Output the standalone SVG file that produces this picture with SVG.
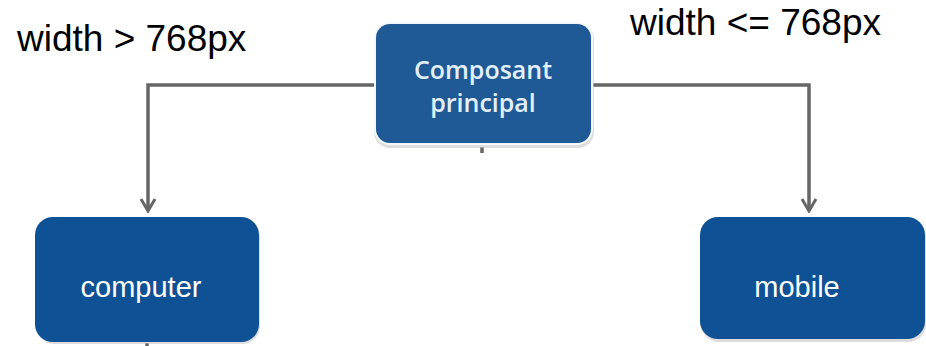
<svg xmlns="http://www.w3.org/2000/svg" width="926" height="346" viewBox="0 0 926 346">
<defs>
<style>
.label{font-family:"Liberation Sans",Arial,sans-serif;fill:#000;font-size:37px}
.node{fill:#0e5194}
.ntext{font-family:"Liberation Sans",Arial,sans-serif;fill:#fff;font-size:29px;text-anchor:middle}
.mtext{font-family:"Open Sans","Liberation Sans",sans-serif;fill:#e2f0fb;font-size:25px;font-weight:600;text-anchor:middle}
.conn{fill:none;stroke:#666;stroke-width:3.5}
</style>
<marker id="arr" viewBox="0 0 16 18" refX="14" refY="9" markerWidth="16" markerHeight="18" markerUnits="userSpaceOnUse" orient="auto">
<path d="M2 2 L14 9 L2 16" fill="none" stroke="#666" stroke-width="3"/>
</marker>
</defs>
<rect width="926" height="346" fill="#fff"/>
<text class="label" x="17" y="51">width &gt; 768px</text>
<text class="label" x="630" y="35">width &lt;= 768px</text>
<g id="connectors">
<path class="conn" d="M376 85 H148 V211" marker-end="url(#arr)"/>
<path class="conn" d="M591 85 H809 V211" marker-end="url(#arr)"/>
<path class="conn" d="M482 147 V153"/>
<path class="conn" d="M147 343 V346"/>
</g>
<g id="main">
<rect x="374" y="24" width="220" height="124" rx="16" fill="#c8c8c8" opacity="0.6"/>
<rect x="374" y="22" width="219" height="123" rx="16" fill="#f4f8fb"/>
<rect x="376" y="24" width="215" height="119" rx="14" fill="#1f5a96"/>
<text class="mtext" x="483" y="79">Composant</text>
<text class="mtext" x="483" y="112">principal</text>
</g>
<g id="computer">
<rect x="36" y="219" width="224" height="125" rx="18" fill="#bbb" opacity="0.5"/>
<rect x="35" y="217" width="224" height="125" rx="18" class="node"/>
<text class="ntext" x="141" y="297">computer</text>
</g>
<g id="mobile">
<rect x="701" y="219" width="225" height="123" rx="18" fill="#bbb" opacity="0.5"/>
<rect x="700" y="217" width="225" height="122" rx="18" class="node"/>
<text class="ntext" x="797" y="297">mobile</text>
</g>
</svg>
